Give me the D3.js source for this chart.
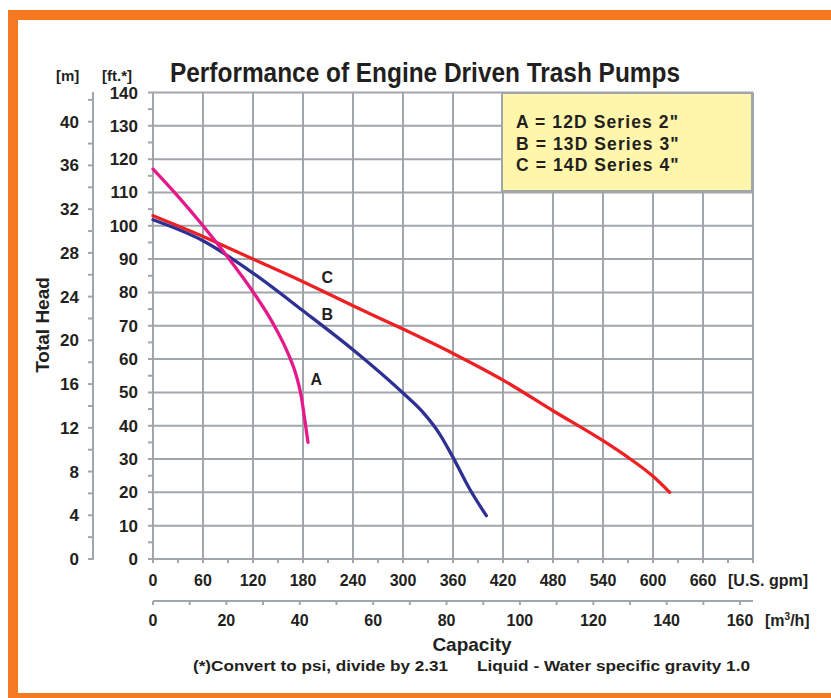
<!DOCTYPE html>
<html lang="en">
<head>
<meta charset="UTF-8">
<title>Performance of Engine Driven Trash Pumps</title>
<script src="https://d3js.org/d3.v7.min.js"></script>
<style>
  body { margin: 0; background: #fff; }
  svg text { font-family: "Liberation Sans", Arial, sans-serif; font-weight: bold; fill: #231f20; }
</style>
</head>
<body>
<svg id="chart" width="831" height="698"></svg>
<script>
// pump curves, [U.S. gpm, ft]
const curveA = [[0,117],[30,108.8],[60,100],[90,90.5],[120,80.2],[144,70.7],[162,61.7],[172,55],[178,48.7],[182,42],[186,35]];
const curveB = [[0,101.8],[60,95.5],[120,85.8],[180,74.5],[240,62.8],[300,49.8],[324,44],[344,37.5],[360,30.5],[380,21],[400,13]];
const curveC = [[0,103],[60,96.8],[120,90],[180,83.2],[240,76],[300,69],[360,61.7],[420,53.7],[480,44.5],[540,35.5],[570,30.5],[600,24.8],[620,20]];

const gpmTicks = [0,60,120,180,240,300,360,420,480,540,600,660];
const m3hTicks = [0,20,40,60,80,100,120,140,160];
const ftTicks = [0,10,20,30,40,50,60,70,80,90,100,110,120,130,140];
const mTicks = [0,4,8,12,16,20,24,28,32,36,40];
const legendLines = ['A = 12D Series 2"', 'B = 13D Series 3"', 'C = 14D Series 4"'];

const FT_PER_M = 3.28084;
const GPM_PER_M3H = 4.40287;

const svg = d3.select("#chart");
const grey = "#a1a6ab";

// orange frame (open on the right)
svg.append("rect").attr("x", 8).attr("y", 10).attr("width", 823).attr("height", 10).attr("fill", "#f47920");
svg.append("rect").attr("x", 8).attr("y", 10).attr("width", 10).attr("height", 688).attr("fill", "#f47920");
svg.append("rect").attr("x", 8).attr("y", 693).attr("width", 823).attr("height", 5).attr("fill", "#f47920");

const x = d3.scaleLinear().domain([0, 720]).range([153, 753]);
const y = d3.scaleLinear().domain([0, 140]).range([559, 92.5]);

// grid
const grid = svg.append("g").attr("stroke", grey).attr("stroke-width", 2);
grid.selectAll("line.v").data(d3.range(0, 721, 60)).join("line")
  .attr("x1", d => x(d)).attr("x2", d => x(d)).attr("y1", y(140)).attr("y2", y(0) + 4);
grid.selectAll("line.h").data(ftTicks).join("line")
  .attr("y1", d => y(d)).attr("y2", d => y(d)).attr("x1", x(0) - 5).attr("x2", x(720));
// minor ticks
grid.selectAll("line.mx").data(d3.range(30, 721, 60)).join("line")
  .attr("x1", d => x(d)).attr("x2", d => x(d)).attr("y1", y(0)).attr("y2", y(0) + 4);
grid.selectAll("line.my").data(d3.range(5, 140, 10)).join("line")
  .attr("y1", d => y(d)).attr("y2", d => y(d)).attr("x1", x(0) - 5).attr("x2", x(0));

// ft labels
svg.selectAll("text.ft").data(ftTicks).join("text")
  .attr("x", 138).attr("y", d => y(d) + 6).attr("text-anchor", "end")
  .attr("font-size", 17).text(d => d);

// metre axis
const mAxisX = 93;
const mg = svg.append("g").attr("stroke", grey).attr("stroke-width", 2);
mg.append("line").attr("x1", mAxisX).attr("x2", mAxisX).attr("y1", 92).attr("y2", y(0) + 1);
mg.selectAll("line.t").data(d3.range(0, 43, 2)).join("line")
  .attr("x1", mAxisX - 5).attr("x2", mAxisX)
  .attr("y1", d => y(d * FT_PER_M)).attr("y2", d => y(d * FT_PER_M));
svg.selectAll("text.m").data(mTicks).join("text")
  .attr("x", 79).attr("y", d => y(d * FT_PER_M) + 6).attr("text-anchor", "end")
  .attr("font-size", 17).text(d => d);

svg.append("text").attr("x", 56).attr("y", 81).attr("font-size", 15).text("[m]");
svg.append("text").attr("x", 102).attr("y", 81).attr("font-size", 15).text("[ft.*]");

// gpm labels
svg.selectAll("text.gpm").data(gpmTicks).join("text")
  .attr("x", d => x(d)).attr("y", 586).attr("text-anchor", "middle")
  .attr("font-size", 16).text(d => d);
svg.append("text").attr("x", 728).attr("y", 586).attr("font-size", 16).text("[U.S. gpm]");

// m3/h axis
const ag = svg.append("g").attr("stroke", grey).attr("stroke-width", 2);
ag.append("line").attr("x1", x(0)).attr("x2", x(720)).attr("y1", 601).attr("y2", 601);
ag.selectAll("line.t").data(d3.range(0, 161, 10)).join("line")
  .attr("x1", d => x(d * GPM_PER_M3H)).attr("x2", d => x(d * GPM_PER_M3H))
  .attr("y1", 601).attr("y2", 605);
svg.selectAll("text.m3").data(m3hTicks).join("text")
  .attr("x", d => x(d * GPM_PER_M3H)).attr("y", 626).attr("text-anchor", "middle")
  .attr("font-size", 16).text(d => d);
const unit = svg.append("text").attr("x", 765).attr("y", 626).attr("font-size", 16);
unit.append("tspan").text("[m");
unit.append("tspan").attr("font-size", 10).attr("dy", -6).text("3");
unit.append("tspan").attr("dy", 6).text("/h]");

// axis titles
svg.append("text").attr("x", 472).attr("y", 651).attr("text-anchor", "middle")
  .attr("font-size", 19).text("Capacity");
svg.append("text").attr("transform", "translate(49,325) rotate(-90)")
  .attr("text-anchor", "middle").attr("font-size", 19).text("Total Head");
svg.append("text").attr("x", 193).attr("y", 671).attr("font-size", 15)
  .attr("textLength", 255).attr("lengthAdjust", "spacingAndGlyphs")
  .text("(*)Convert to psi, divide by 2.31");
svg.append("text").attr("x", 477).attr("y", 671).attr("font-size", 15)
  .attr("textLength", 273).attr("lengthAdjust", "spacingAndGlyphs")
  .text("Liquid - Water specific gravity 1.0");

// title
svg.append("text").attr("x", 170).attr("y", 82).attr("font-size", 27)
  .attr("textLength", 510).attr("lengthAdjust", "spacingAndGlyphs")
  .text("Performance of Engine Driven Trash Pumps");

// legend box
svg.append("rect").attr("x", 502).attr("y", 93).attr("width", 250).attr("height", 98)
  .attr("fill", "#fff6ab").attr("stroke", grey).attr("stroke-width", 2);
svg.selectAll("text.leg").data(legendLines).join("text")
  .attr("x", 516).attr("y", (d, i) => 128 + i * 21.5)
  .attr("font-size", 17.5).attr("letter-spacing", 1.1).text(d => d);

// curves
const line = d3.line().x(d => x(d[0])).y(d => y(d[1])).curve(d3.curveMonotoneX);
const series = [
  { data: curveC, color: "#ed2024" },
  { data: curveB, color: "#2e3192" },
  { data: curveA, color: "#e6198b" }
];
svg.selectAll("path.curve").data(series).join("path")
  .attr("d", d => line(d.data)).attr("fill", "none")
  .attr("stroke", d => d.color).attr("stroke-width", 3.3).attr("stroke-linecap", "round");

// curve labels
const curveLabels = [["C", 209, 84.5], ["B", 209, 73.5], ["A", 196, 54]];
svg.selectAll("text.cl").data(curveLabels).join("text")
  .attr("x", d => x(d[1])).attr("y", d => y(d[2]) + 6).attr("text-anchor", "middle")
  .attr("font-size", 16).text(d => d[0]);
</script>
</body>
</html>
